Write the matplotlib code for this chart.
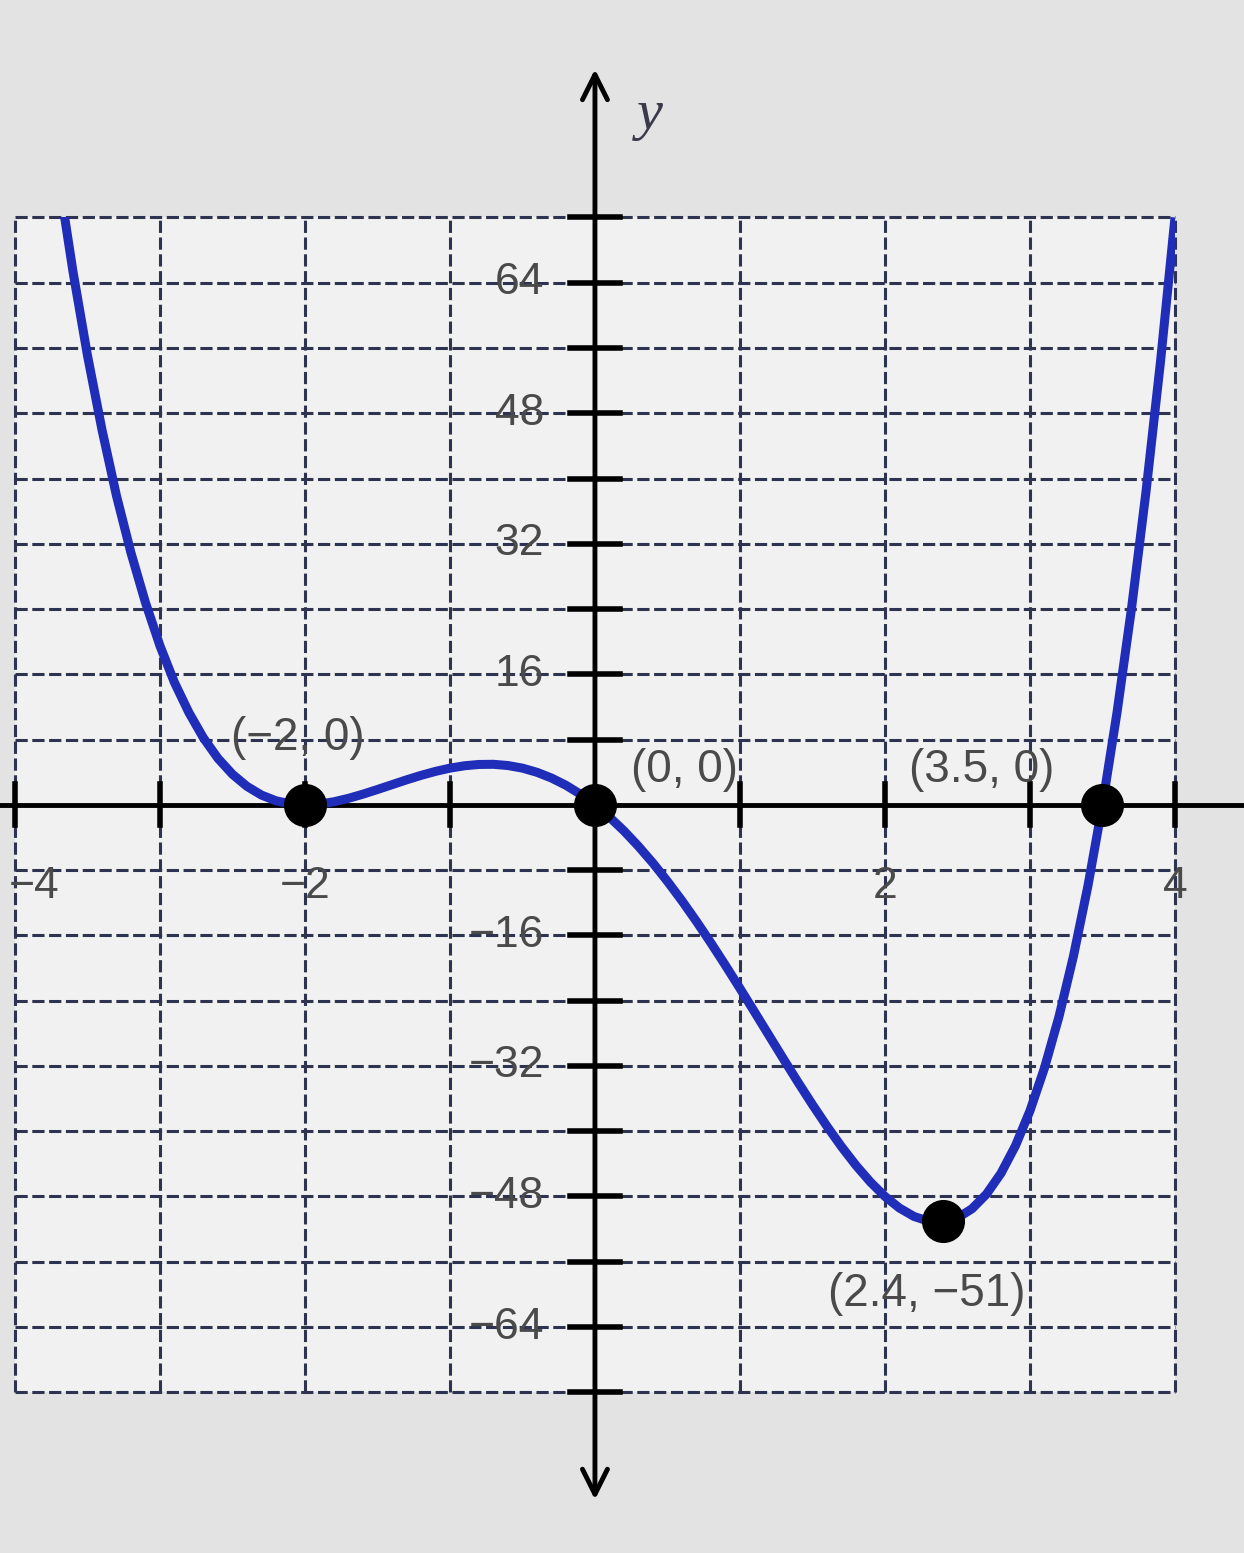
import matplotlib
matplotlib.use("Agg")
import matplotlib.pyplot as plt
from matplotlib.patches import Rectangle

# curve values
xs = [-3.7, -3.6, -3.5, -3.4, -3.3, -3.2, -3.1, -3.0, -2.9, -2.8, -2.7, -2.6,
      -2.5, -2.4, -2.3, -2.2, -2.1, -2.0, -1.9, -1.8, -1.7, -1.6, -1.5, -1.4,
      -1.3, -1.2, -1.1, -1.0, -0.9, -0.8, -0.7, -0.6, -0.5, -0.4, -0.3, -0.2,
      -0.1, 0.0, 0.1, 0.2, 0.3, 0.4, 0.5, 0.6, 0.7, 0.8, 0.9, 1.0, 1.1, 1.2,
      1.3, 1.4, 1.5, 1.6, 1.7, 1.8, 1.9, 2.0, 2.1, 2.2, 2.3, 2.4, 2.5, 2.6,
      2.7, 2.8, 2.9, 3.0, 3.1, 3.2, 3.3, 3.4, 3.5, 3.6, 3.7, 3.8, 3.9, 4.0]
ys = [77.0, 65.4, 55.1, 46.0, 37.9, 30.9, 24.8, 19.5, 15.0, 11.3, 8.2, 5.7,
      3.75, 2.27, 1.2, 0.5, 0.12, 0.0, 0.1, 0.38, 0.8, 1.31, 1.88, 2.47,
      3.06, 3.61, 4.1, 4.5, 4.79, 4.95, 4.97, 4.82, 4.5, 3.99, 3.29, 2.4,
      1.3, 0.0, -1.5, -3.19, -5.08, -7.14, -9.38, -11.76, -14.29, -16.93, -19.68, -22.5, -25.37, -28.26,
      -31.15, -33.99, -36.75, -39.4, -41.89, -44.19, -46.24, -48.0, -49.42, -50.45, -51.03, -51.11, -50.63, -49.51,
      -47.71, -45.16, -41.78, -37.5, -32.25, -25.96, -18.54, -9.91, 0.0, 11.29, 24.04, 38.35, 54.3, 72.0]

# marked points and their labels
pt_x = [-2, 0, 3.5, 2.4]
pt_y = [0, 0, 0, -51]
pt_labels = ["(\u22122, 0)", "(0, 0)", "(3.5, 0)", "(2.4, \u221251)"]
lbl_x = [-2.05, 0.62, 2.67, 2.29]
lbl_y = [8.2, 4.3, 4.3, -60]

x_ticks = [-3.87, -2, 2, 4]
x_tick_labels = ["\u22124", "\u22122", "2", "4"]
y_ticks = [64, 48, 32, 16, -16, -32, -48, -64]
y_tick_labels = ["64", "48", "32", "16", "\u221216", "\u221232", "\u221248", "\u221264"]

fig = plt.figure(figsize=(12.44, 15.53), dpi=100)
fig.patch.set_facecolor("#e3e3e3")
ax = fig.add_axes([0, 0, 1, 1])
ax.set_xlim(-4.103, 4.476)
ax.set_ylim(-91.7, 98.65)
ax.axis("off")

# grid area
ax.add_patch(Rectangle((-4, -72), 8, 144, facecolor="#f1f1f1", edgecolor="none", zorder=0))
grid_kw = dict(color="#2e3350", lw=2.2, ls=(0, (4, 1.5)), zorder=1)
for gx in range(-4, 5):
    if gx != 0:
        ax.plot([gx, gx], [-72, 72], **grid_kw)
for gy in range(-72, 73, 8):
    if gy != 0:
        ax.plot([-4, 4], [gy, gy], **grid_kw)

# axes
ax.plot([-4.103, 4.476], [0, 0], color="black", lw=3.5, zorder=2)
ax.annotate("", xy=(0, 90.5), xytext=(0, -85.5),
            arrowprops=dict(arrowstyle="<->", lw=3.5, color="black", mutation_scale=45),
            zorder=2)
for ty in range(-72, 73, 8):
    if ty != 0:
        ax.plot([-0.17, 0.17], [ty, ty], color="black", lw=4, zorder=2)
for tx in range(-4, 5):
    if tx != 0:
        ax.plot([tx, tx], [-2.5, 2.5], color="black", lw=4, zorder=2)

for tx, tl in zip(x_ticks, x_tick_labels):
    ax.text(tx, -10, tl, ha="center", va="center", fontsize=32,
            color="#4a4a4a", family="Liberation Sans", zorder=3)
for ty, tl in zip(y_ticks, y_tick_labels):
    ax.text(-0.35, ty, tl, ha="right", va="center", fontsize=32,
            color="#4a4a4a", family="Liberation Sans", zorder=3)

ax.text(0.38, 84.5, "y", ha="center", va="center", fontsize=42, style="italic",
        color="#3a3a4a", family="Liberation Serif")

# curve
line, = ax.plot(xs, ys, color="#1f2db8", lw=6.5, solid_capstyle="butt", zorder=4)
line.set_clip_path(Rectangle((-4, -72), 8, 144, transform=ax.transData))

ax.plot(pt_x, pt_y, "o", color="black", markersize=30, zorder=5)
for lx, ly, lt in zip(lbl_x, lbl_y, pt_labels):
    ax.text(lx, ly, lt, ha="center", va="center", fontsize=33,
            color="#4a4a4a", family="Liberation Sans", zorder=6)

fig.savefig("out.png", dpi=100, facecolor=fig.get_facecolor())
